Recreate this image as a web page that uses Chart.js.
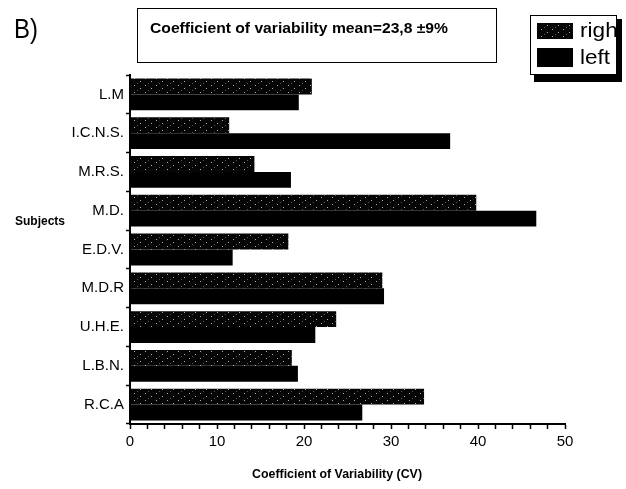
<!DOCTYPE html>
<html>
<head>
<meta charset="utf-8">
<script src="https://cdn.jsdelivr.net/npm/chart.js@4/dist/chart.umd.min.js"></script>
<style>
  body { margin: 0; background: #fff; }
  #grafico { display: block; }
</style>
</head>
<body>
<canvas id="grafico" width="626" height="489"></canvas>
<script>
var soggetti = ['L.M', 'I.C.N.S.', 'M.R.S.', 'M.D.', 'E.D.V.', 'M.D.R', 'U.H.E.', 'L.B.N.', 'R.C.A'];
var valoriDestra = [20.9, 11.4, 14.3, 39.8, 18.2, 29.0, 23.7, 18.6, 33.8];
var valoriSinistra = [19.4, 36.8, 18.5, 46.7, 11.8, 29.2, 21.3, 19.3, 26.7];
var tickAsseX = [0, 10, 20, 30, 40, 50];
var titolo = 'Coefficient of variability mean=23,8 ±9%';
var titoloAsseX = 'Coefficient of Variability (CV)';
var titoloAsseY = 'Subjects';
var etichettaPannello = 'B)';
var nomiLegenda = ['right', 'left'];

// retino quasi nero con pochi puntini chiari per le barre "right"
function creaRetino() {
    var c = document.createElement('canvas');
    c.width = 11;
    c.height = 7;
    var g = c.getContext('2d');
    g.fillStyle = '#050505';
    g.fillRect(0, 0, 11, 7);
    g.fillStyle = '#b0b0b0';
    g.fillRect(2, 1, 1, 1);
    g.fillRect(8, 4, 1, 1);
    g.fillStyle = '#555';
    g.fillRect(5, 6, 1, 1);
    return document.getElementById('grafico').getContext('2d').createPattern(c, 'repeat');
}
var retino = creaRetino();

function testoStretto(ctx, testo, x, y, larghezza) {
    var w = ctx.measureText(testo).width;
    ctx.save();
    ctx.translate(x, y);
    ctx.scale(larghezza / w, 1);
    ctx.fillText(testo, 0, 0);
    ctx.restore();
}

var decorazioni = {
    id: 'decorazioni',
    afterDraw: function(chart) {
        var ctx = chart.ctx;
        ctx.save();
        ctx.fillStyle = '#000';
        ctx.textBaseline = 'middle';

        // etichetta pannello
        ctx.font = '27px "Liberation Sans", Arial, sans-serif';
        testoStretto(ctx, etichettaPannello, 14, 31, 24);

        // riquadro titolo
        ctx.strokeStyle = '#000';
        ctx.lineWidth = 1;
        ctx.strokeRect(137.5, 8.5, 359, 54);
        ctx.font = 'bold 14px "Liberation Sans", Arial, sans-serif';
        testoStretto(ctx, titolo, 150, 29, 298);

        // titoli assi
        ctx.font = 'bold 12px "Liberation Sans", Arial, sans-serif';
        testoStretto(ctx, titoloAsseY, 15, 222, 50);
        testoStretto(ctx, titoloAsseX, 252, 475, 170);

        // legenda con ombra
        ctx.fillStyle = '#000';
        ctx.fillRect(534, 19, 88, 63);
        ctx.fillStyle = '#fff';
        ctx.fillRect(530, 15, 87, 60);
        ctx.strokeRect(530.5, 15.5, 86, 59);
        ctx.fillStyle = retino;
        ctx.fillRect(537, 23, 36, 16);
        ctx.fillStyle = '#000';
        ctx.fillRect(537, 48, 36, 19);
        ctx.save();
        ctx.beginPath();
        ctx.rect(531, 16, 85, 58);
        ctx.clip();
        ctx.font = '21px "Liberation Sans", Arial, sans-serif';
        testoStretto(ctx, nomiLegenda[0], 580, 31, 44);
        testoStretto(ctx, nomiLegenda[1], 580, 58, 30);
        ctx.restore();

        ctx.restore();
    }
};

var ctx = document.getElementById('grafico');
var chart = new Chart(ctx, {
    type: 'bar',
    data: {
        labels: soggetti,
        datasets: [{
            label: nomiLegenda[0],
            data: valoriDestra,
            backgroundColor: retino,
            borderWidth: 0
        }, {
            label: nomiLegenda[1],
            data: valoriSinistra,
            backgroundColor: '#000',
            borderWidth: 0
        }]
    },
    options: {
        indexAxis: 'y',
        responsive: false,
        animation: false,
        categoryPercentage: 0.82,
        barPercentage: 1,
        layout: { padding: { top: 75, right: 61, left: 0, bottom: 0 } },
        plugins: {
            legend: { display: false },
            tooltip: { enabled: false }
        },
        scales: {
            x: {
                min: 0,
                max: 50,
                afterFit: function(scale) { scale.height = 65; },
                ticks: {
                    stepSize: 2,
                    autoSkip: false,
                    maxRotation: 0,
                    padding: 4,
                    color: '#000',
                    font: { family: '"Liberation Sans", Arial, sans-serif', size: 15 },
                    callback: function(v) { return tickAsseX.indexOf(v) >= 0 ? v : ''; }
                },
                grid: { drawOnChartArea: false, tickLength: 5, tickColor: '#000', tickWidth: 1.5 },
                border: { color: '#000', width: 2 }
            },
            y: {
                afterFit: function(scale) { scale.width = 130; },
                ticks: {
                    padding: 2,
                    color: '#000',
                    font: { family: '"Liberation Sans", Arial, sans-serif', size: 15 }
                },
                grid: { drawOnChartArea: false, tickLength: 4, tickColor: '#000', tickWidth: 1.5 },
                border: { color: '#000', width: 2 }
            }
        }
    },
    plugins: [decorazioni]
});
</script>
</body>
</html>
